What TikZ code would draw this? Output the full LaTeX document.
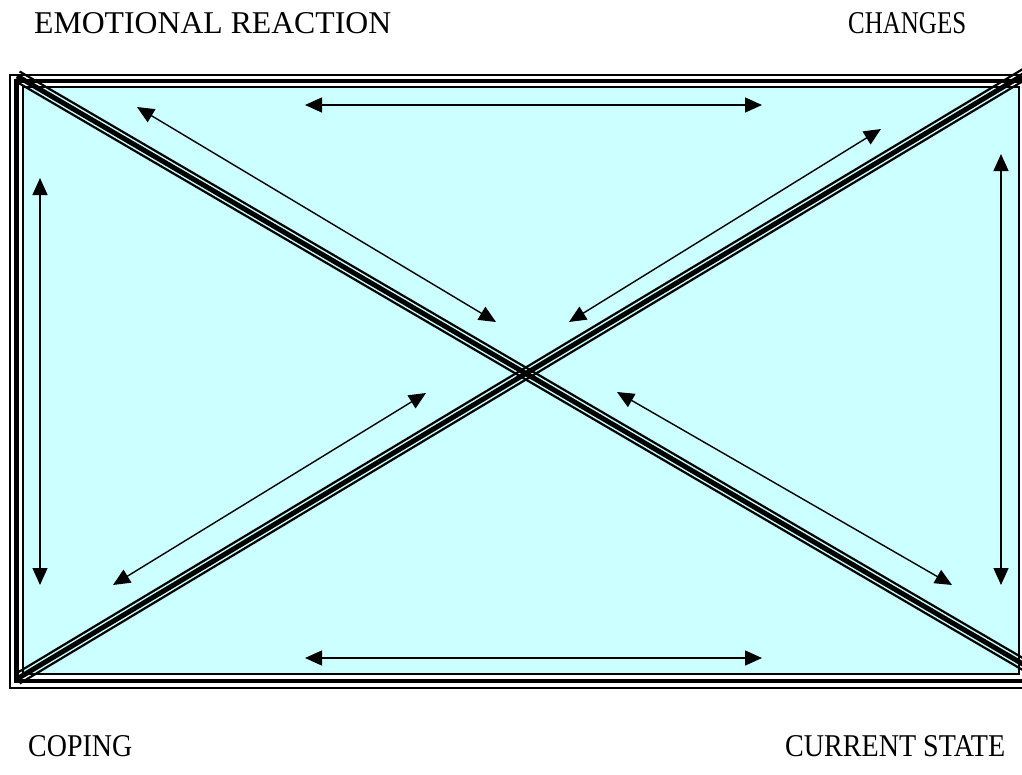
\documentclass[tikz,border=0pt]{standalone}
\usepackage{fontspec}
\setmainfont{Liberation Serif}
\usetikzlibrary{arrows.meta,calc}
\definecolor{paleCyan}{HTML}{CCFFFF}
\tikzset{
  frameline/.style={draw=black,line width=#1},
  biarrow/.style={line width=1.4pt,{Triangle[length=17pt,width=15pt]}-{Triangle[length=17pt,width=15pt]}},
  diagthin/.style={line width=2.2pt,black},
  diagthick/.style={line width=5pt,black},
  lbl/.style={inner sep=0pt,anchor=base west,font=\fontsize{31.7}{38}\selectfont}
}
\begin{document}
\begin{tikzpicture}[x=1pt,y=-1pt]
\useasboundingbox (0,0) rectangle (1022,774);
\clip (0,0) rectangle (1022,774);
% frame
\draw[frameline=2pt] (10,75) rectangle (1032,688);
\draw[frameline=4.5pt] (16.5,81) rectangle (1026,681);
\draw[frameline=2pt,fill=paleCyan] (23,87) rectangle (1019,674);
% diagonals
\coordinate (A1) at (17,76);
\coordinate (A2) at (1033,670);
\coordinate (B1) at (17,679);
\coordinate (B2) at (1033,69);
\foreach \p/\q in {A1/A2,B1/B2}{
  \draw[diagthick] (\p) -- (\q);
  \draw[diagthin] ($(\p)!5.2pt!90:(\q)$) -- ($(\q)!5.2pt!-90:(\p)$);
  \draw[diagthin] ($(\p)!5.2pt!-90:(\q)$) -- ($(\q)!5.2pt!90:(\p)$);
}
% arrows
\coordinate (t1) at (305,105);  \coordinate (t2) at (762,105);
\coordinate (b1) at (305,658);  \coordinate (b2) at (762,658);
\coordinate (l1) at (40,178);   \coordinate (l2) at (40,585);
\coordinate (r1) at (1001,154); \coordinate (r2) at (1001,585);
\coordinate (d1) at (137,107);  \coordinate (d2) at (496,322);
\coordinate (e1) at (881,129);  \coordinate (e2) at (569,322);
\coordinate (f1) at (426,393);  \coordinate (f2) at (113,585);
\coordinate (g1) at (617,392);  \coordinate (g2) at (952,585);
\foreach \u/\v in {t1/t2,b1/b2,l1/l2,r1/r2,d1/d2,e1/e2,f1/f2,g1/g2}
  \draw[biarrow] (\u) -- (\v);
% labels
\node[lbl] (emo) at (34,33) {\resizebox{357pt}{\height}{EMOTIONAL REACTION}};
\node[lbl] (chg) at (848,33) {\resizebox{118pt}{\height}{CHANGES}};
\node[lbl] (cop) at (28,756) {\resizebox{104pt}{\height}{COPING}};
\node[lbl] (cur) at (785,756) {\resizebox{220pt}{\height}{CURRENT STATE}};
\end{tikzpicture}
\end{document}
